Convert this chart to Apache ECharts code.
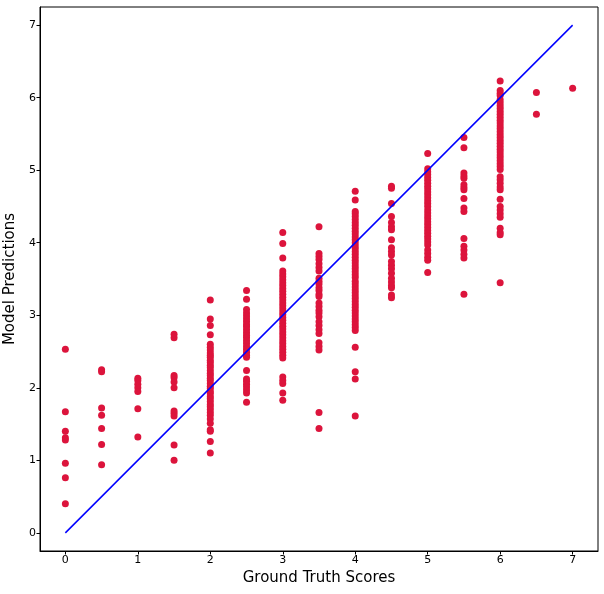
<!DOCTYPE html>
<html>
<head>
<meta charset="utf-8">
<script src="https://cdn.jsdelivr.net/npm/echarts@6/dist/echarts.min.js"></script>
<style>
  html, body { margin: 0; padding: 0; background: #fff; }
  #chart { width: 604px; height: 594px; }
</style>
</head>
<body>
<div id="chart"></div>
<script>
// predictions grouped by ground truth score
const scores = [0, 0.5, 1, 1.5, 2, 2.5, 3, 3.5, 4, 4.5, 5, 5.5, 6, 6.5, 7]
const predsAt0 = [2.53, 1.67, 1.40, 1.31, 1.28, 0.96, 0.76, 0.40]
const predsAt05 = [2.25, 2.22, 1.72, 1.62, 1.44, 1.22, 0.94]
const predsAt1 = [2.13, 2.10, 2.05, 2.00, 1.95, 1.71, 1.32]
const predsAt15 = [2.74, 2.69, 2.17, 2.14, 2.08, 2.00, 1.68, 1.65, 1.61, 1.21, 1.00]
const predsAt2 = [3.21, 2.95, 2.86, 2.73, 2.60, 2.56, 2.52, 2.48, 2.45, 2.42, 2.38, 2.35, 2.31, 2.28, 2.24,
  2.20, 2.17, 2.13, 2.10, 2.06, 2.02, 1.99, 1.95, 1.92, 1.88, 1.85, 1.81, 1.77, 1.74, 1.70, 1.66, 1.62,
  1.57, 1.51, 1.42, 1.40, 1.26, 1.10]
const predsAt25 = [3.34, 3.22, 3.08, 3.03, 2.99, 2.95, 2.91, 2.87, 2.84, 2.80, 2.76, 2.72, 2.69, 2.65, 2.61,
  2.57, 2.53, 2.49, 2.45, 2.42, 2.24, 2.12, 2.09, 2.05, 2.01, 1.97, 1.93, 1.80]
const predsAt3 = [4.14, 3.99, 3.79, 3.61, 3.57, 3.53, 3.49, 3.45, 3.41, 3.37, 3.33, 3.29, 3.25, 3.21, 3.17,
  3.13, 3.09, 3.05, 3.01, 2.97, 2.93, 2.89, 2.85, 2.81, 2.77, 2.73, 2.69, 2.65, 2.61, 2.57, 2.53, 2.49,
  2.45, 2.41, 2.15, 2.10, 2.06, 1.93, 1.83]
const predsAt35 = [4.22, 3.85, 3.81, 3.77, 3.71, 3.66, 3.61, 3.51, 3.47, 3.43, 3.38, 3.34, 3.29, 3.26, 3.17,
  3.12, 3.07, 3.03, 2.98, 2.91, 2.86, 2.80, 2.75, 2.62, 2.57, 2.52, 1.66, 1.44]
const predsAt4 = [4.71, 4.59, 4.43, 4.40, 4.36, 4.32, 4.28, 4.24, 4.20, 4.16, 4.12, 4.08, 4.04, 4.00, 3.96,
  3.92, 3.88, 3.84, 3.80, 3.76, 3.72, 3.68, 3.64, 3.60, 3.56, 3.52, 3.47, 3.43, 3.39, 3.35, 3.31, 3.27,
  3.23, 3.19, 3.15, 3.11, 3.07, 3.03, 2.99, 2.95, 2.91, 2.87, 2.83, 2.79, 2.56, 2.22, 2.12, 1.61]
const predsAt45 = [4.78, 4.75, 4.54, 4.36, 4.28, 4.22, 4.18, 4.04, 3.93, 3.88, 3.83, 3.74, 3.69, 3.64, 3.58,
  3.51, 3.46, 3.41, 3.38, 3.28, 3.24]
const predsAt5 = [5.23, 5.02, 4.98, 4.94, 4.90, 4.86, 4.82, 4.78, 4.74, 4.70, 4.66, 4.62, 4.58, 4.54, 4.50,
  4.45, 4.41, 4.37, 4.33, 4.29, 4.25, 4.21, 4.17, 4.13, 4.09, 4.05, 4.01, 3.97, 3.90, 3.85, 3.80, 3.76, 3.59]
const predsAt55 = [5.45, 5.31, 4.96, 4.92, 4.89, 4.80, 4.76, 4.73, 4.61, 4.48, 4.43, 4.06, 3.95, 3.90, 3.84,
  3.79, 3.29]
const predsAt6 = [6.23, 6.10, 6.06, 6.03, 5.97, 5.93, 5.89, 5.85, 5.81, 5.77, 5.73, 5.69, 5.65, 5.61, 5.57,
  5.53, 5.49, 5.45, 5.41, 5.37, 5.33, 5.29, 5.25, 5.21, 5.17, 5.13, 5.09, 5.05, 5.01, 4.91, 4.87, 4.82,
  4.77, 4.73, 4.60, 4.50, 4.45, 4.40, 4.35, 4.20, 4.14, 4.11, 3.45]
const predsAt65 = [6.07, 5.77]
const predsAt7 = [6.13]

const predGroups = [predsAt0, predsAt05, predsAt1, predsAt15, predsAt2, predsAt25, predsAt3, predsAt35,
  predsAt4, predsAt45, predsAt5, predsAt55, predsAt6, predsAt65, predsAt7]

// identity line
const lineX = [0, 7]
const lineY = [0, 7]

const tickValues = [0, 1, 2, 3, 4, 5, 6, 7]

const scatterData = []
scores.forEach((s, i) => {
  predGroups[i].forEach(p => scatterData.push([s, p]))
})

const chart = echarts.init(document.getElementById('chart'))
const font = 'DejaVu Sans'

const axisCommon = {
  type: 'value',
  splitLine: { show: false },
  axisLine: { show: true, onZero: false, lineStyle: { color: '#000', width: 1 } },
  axisTick: { show: true, customValues: tickValues, length: 3.5, lineStyle: { color: '#000' } },
  axisLabel: { customValues: tickValues, color: '#000', fontFamily: font, fontSize: 11, margin: 4 },
  nameLocation: 'middle',
  nameTextStyle: { color: '#000', fontFamily: font, fontSize: 15 },
}

chart.setOption({
  animation: false,
  grid: {
    left: 40, right: 6, top: 7, bottom: 43,
    outerBoundsMode: 'none',
    show: true, borderColor: '#000', borderWidth: 1,
  },
  xAxis: {
    ...axisCommon,
    min: -0.35,
    max: 7.35,
    name: 'Ground Truth Scores',
    nameGap: 20,
  },
  yAxis: {
    ...axisCommon,
    min: -0.25,
    max: 7.25,
    name: 'Model Predictions',
    nameGap: 16,
  },
  series: [
    {
      type: 'line',
      data: lineX.map((x, i) => [x, lineY[i]]),
      showSymbol: false,
      lineStyle: { color: '#0000ff', width: 1.5 },
      z: 3,
    },
    {
      type: 'scatter',
      data: scatterData,
      symbolSize: 7,
      itemStyle: { color: '#dc143c', opacity: 1 },
      z: 2,
    },
  ],
})
</script>
</body>
</html>
